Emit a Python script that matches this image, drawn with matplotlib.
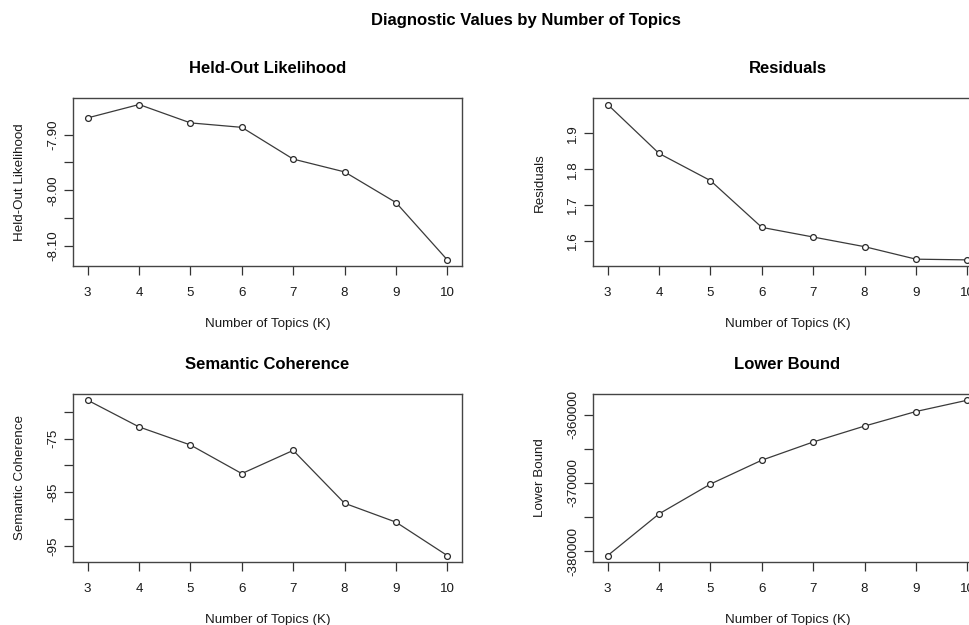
import matplotlib
matplotlib.use("Agg")
import matplotlib.pyplot as plt
import numpy as np

plt.rcParams['font.family'] = ['Liberation Sans', 'DejaVu Sans']

K = [3, 4, 5, 6, 7, 8, 9, 10]
heldout = [-7.870, -7.846, -7.879, -7.887, -7.944, -7.967, -8.022, -8.125]
residuals = [1.981, 1.844, 1.768, 1.637, 1.610, 1.583, 1.548, 1.546]
semcoh = [-67.9, -72.85, -76.2, -81.5, -77.2, -87.0, -90.5, -96.7]
bound = [-380630, -374515, -370150, -366650, -363980, -361650, -359515, -357860]

titles = ["Held-Out Likelihood", "Residuals", "Semantic Coherence", "Lower Bound"]
series = [heldout, residuals, semcoh, bound]
yticks = [
    [-8.10, -8.05, -8.00, -7.95, -7.90],
    [1.6, 1.7, 1.8, 1.9],
    [-95, -90, -85, -80, -75, -70],
    [-380000, -375000, -370000, -365000, -360000],
]
yticklabels = [
    ["-8.10", "", "-8.00", "", "-7.90"],
    ["1.6", "1.7", "1.8", "1.9"],
    ["-95", "", "-85", "", "-75", ""],
    ["-380000", "", "-370000", "", "-360000"],
]
main_title = "Diagnostic Values by Number of Topics"
xlab = "Number of Topics (K)"

W, H = 969, 625
fig = plt.figure(figsize=(W / 100, H / 100), dpi=100)

# axes boxes in pixels: (left, top)
boxes = [(73.3, 98.3), (593.3, 98.3), (73.3, 394.0), (593.3, 394.0)]
bw, bh = 388.4, 167.8

TXT = '#1a1a1a'
for i in range(4):
    l, t = boxes[i]
    ax = fig.add_axes([l / W, 1 - (t + bh) / H, bw / W, bh / H])
    y = series[i]
    ax.plot(K, y, '-', color='#3a3a3a', lw=0.9, zorder=2)
    ax.plot(K, y, 'o', ms=4.2, mfc='white', mec='#2a2a2a', mew=0.9, zorder=3)
    xr = K[-1] - K[0]
    ax.set_xlim(K[0] - 0.04 * xr, K[-1] + 0.04 * xr)
    yr = max(y) - min(y)
    ax.set_ylim(min(y) - 0.04 * yr, max(y) + 0.04 * yr)
    ax.set_xticks(K)
    ax.set_xticklabels([str(k) for k in K])
    ax.set_yticks(yticks[i])
    ax.set_yticklabels(yticklabels[i], rotation=90, va='center')
    for s in ax.spines.values():
        s.set_color('#444444')
        s.set_linewidth(1.0)
    ax.tick_params(axis='both', direction='out', length=6.2, width=0.9,
                   color='#333333', labelsize=9.6, labelcolor=TXT)
    ax.tick_params(axis='x', pad=9.0)
    ax.tick_params(axis='y', pad=4.0)
    ax.set_xlabel(xlab, fontsize=9.6, color=TXT, va='center')
    ax.xaxis.set_label_coords(0.5, -58 / bh)
    ax.set_ylabel(titles[i], fontsize=9.6, color=TXT, va='center')
    ax.yaxis.set_label_coords(-53 / bw, 0.5)
    ax.set_title(titles[i], fontsize=12, fontweight='bold', color='black',
                 y=1 + 29.5 / bh, va='center', pad=0)

fig.text(525.8 / W, 1 - 20.7 / H, main_title, ha='center', va='center',
         fontsize=12, fontweight='bold', color='black')

fig.savefig('out.png', dpi=100, facecolor='white')
